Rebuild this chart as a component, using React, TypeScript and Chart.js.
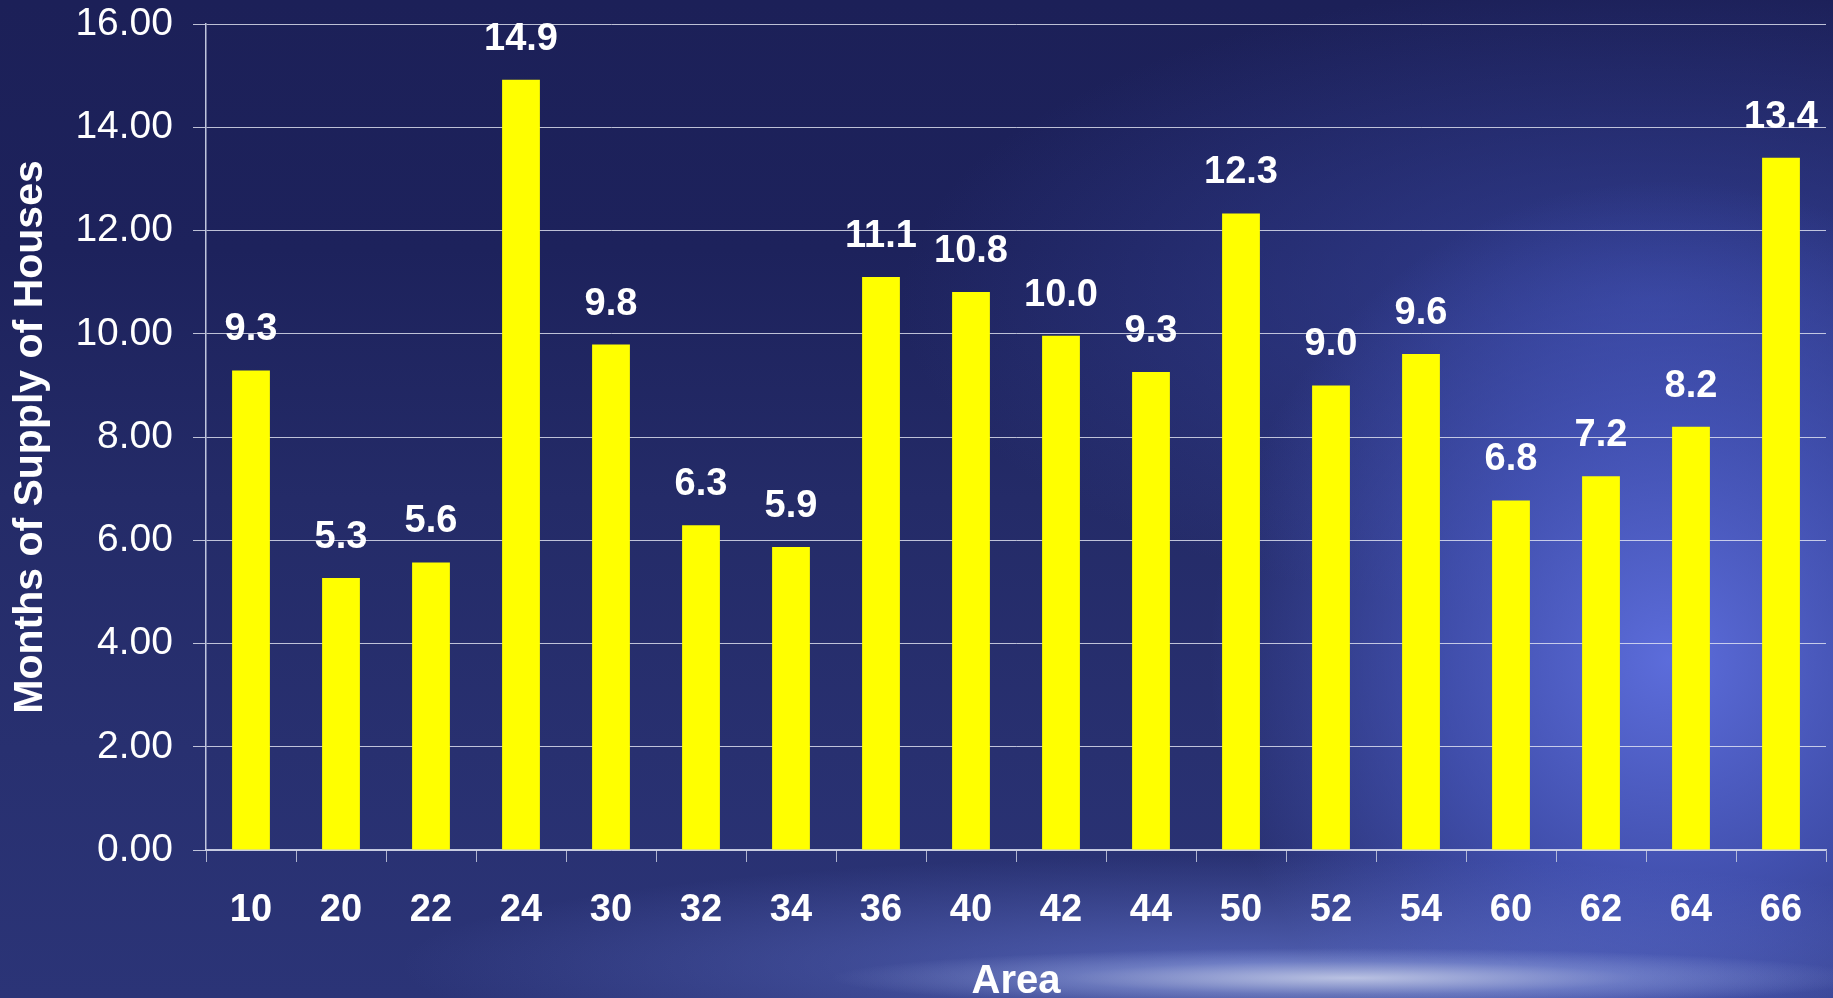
import React, { useEffect, useRef } from "react";
import { Chart, registerables } from "chart.js";

Chart.register(...registerables);

const areas = ["10", "20", "22", "24", "30", "32", "34", "36", "40", "42", "44", "50", "52", "54", "60", "62", "64", "66"];
const monthsOfSupply = [9.29, 5.27, 5.57, 14.92, 9.79, 6.29, 5.87, 11.1, 10.81, 9.96, 9.26, 12.33, 9.0, 9.61, 6.77, 7.24, 8.2, 13.41];
const yMin = 0;
const yMax = 16;
const yStep = 2;
const yTitle = "Months of Supply of Houses";
const xTitle = "Area";

const FONT = "'Liberation Sans', Arial, sans-serif";

const valueLabelPlugin = {
  id: "valueLabels",
  afterDatasetsDraw(chart: any) {
    const ctx = chart.ctx;
    const meta = chart.getDatasetMeta(0);
    const data = chart.data.datasets[0].data as number[];
    ctx.save();
    ctx.fillStyle = "#ffffff";
    ctx.font = `bold 38px ${FONT}`;
    ctx.textAlign = "center";
    ctx.textBaseline = "alphabetic";
    meta.data.forEach((bar: any, i: number) => {
      ctx.fillText(data[i].toFixed(1), bar.x, bar.y - 30);
    });
    ctx.restore();
  },
};

export default function App() {
  const canvasRef = useRef<HTMLCanvasElement | null>(null);

  useEffect(() => {
    if (!canvasRef.current) return;
    const chart = new Chart(canvasRef.current, {
      type: "bar",
      data: {
        labels: areas,
        datasets: [
          {
            data: monthsOfSupply,
            backgroundColor: "#ffff00",
            borderWidth: 0,
            barPercentage: 0.42,
            categoryPercentage: 1,
          },
        ],
      },
      options: {
        animation: false,
        responsive: false,
        maintainAspectRatio: false,
        layout: { padding: { top: 24, right: 7, bottom: 0, left: 0 } },
        plugins: {
          legend: { display: false },
          tooltip: { enabled: false },
        },
        scales: {
          x: {
            offset: true,
            grid: {
              display: true,
              offset: true,
              drawOnChartArea: false,
              drawTicks: true,
              tickLength: 12,
              color: "rgba(200,205,225,0.85)",
            },
            border: { display: true, color: "rgba(210,215,235,0.9)", width: 1.5 },
            ticks: {
              color: "#ffffff",
              font: { family: FONT, size: 38, weight: "bold" },
              padding: 26,
              maxRotation: 0,
              autoSkip: false,
            },
            title: {
              display: true,
              text: xTitle,
              color: "#ffffff",
              font: { family: FONT, size: 40, weight: "bold", lineHeight: 0.8 },
              padding: { top: 0, bottom: 0 },
            },
            afterFit(scale: any) {
              scale.height = 148;
              scale.paddingLeft = 0;
              scale.paddingRight = 0;
            },
          },
          y: {
            min: yMin,
            max: yMax,
            grid: {
              color: "rgba(230,232,245,0.8)",
              lineWidth: 1,
              drawTicks: true,
              tickLength: 13,
            },
            border: { display: true, color: "rgba(210,215,235,0.9)", width: 1.5 },
            ticks: {
              stepSize: yStep,
              color: "#ffffff",
              font: { family: FONT, size: 39 },
              padding: 20,
              callback: (v: any) => Number(v).toFixed(2),
            },
            title: {
              display: true,
              text: yTitle,
              color: "#ffffff",
              font: { family: FONT, size: 41, weight: "bold", lineHeight: 1.2 },
              padding: { top: 6, bottom: 0 },
            },
            afterFit(scale: any) {
              scale.width = 206;
              scale.paddingTop = 0;
              scale.paddingBottom = 0;
            },
          },
        },
      },
      plugins: [valueLabelPlugin],
    });
    return () => chart.destroy();
  }, []);

  return (
    <div
      style={{
        position: "fixed",
        left: 0,
        top: 0,
        width: 1833,
        height: 998,
        overflow: "hidden",
        background: [
          "radial-gradient(ellipse 520px 30px at 1350px 978px, rgba(205,212,236,0.85), rgba(170,185,235,0.35) 55%, rgba(120,140,230,0) 100%)",
          "radial-gradient(ellipse 850px 110px at 1250px 965px, rgba(110,130,225,0.55), rgba(110,130,225,0) 100%)",
          "radial-gradient(ellipse 460px 480px at 1670px 660px, rgba(95,112,225,0.95), rgba(80,98,210,0.6) 50%, rgba(60,75,180,0) 100%)",
          "radial-gradient(ellipse 750px 320px at 1650px 300px, rgba(60,75,170,0.65), rgba(60,75,170,0) 100%)",
          "linear-gradient(180deg, #1c2058 0%, #1d225c 25%, #242b68 50%, #283070 75%, #2b3477 100%)",
        ].join(", "),
      }}
    >
      <canvas ref={canvasRef} width={1833} height={998} style={{ display: "block" }} />
    </div>
  );
}
